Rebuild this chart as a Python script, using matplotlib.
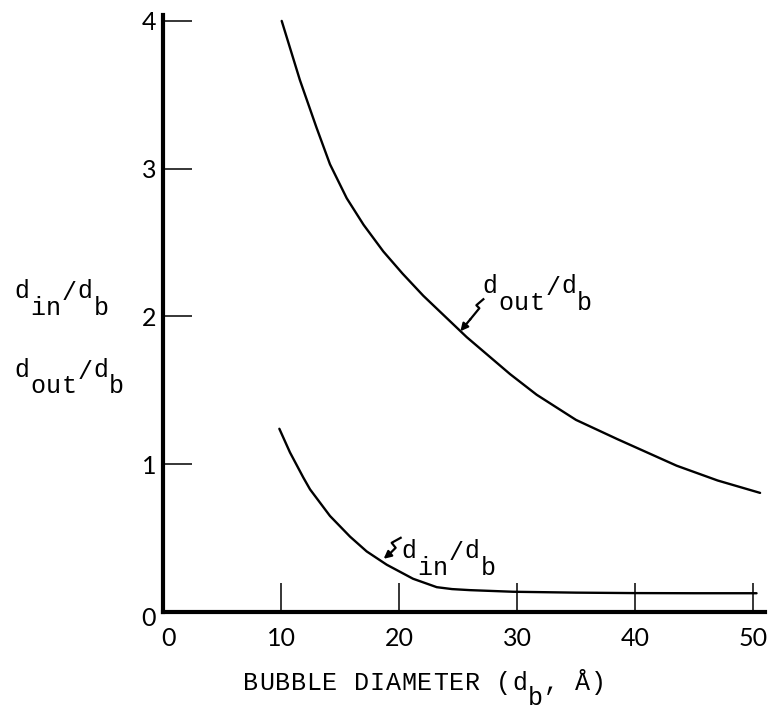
import matplotlib
matplotlib.use("Agg")
import matplotlib.pyplot as plt
from matplotlib.transforms import offset_copy

# values
dout_x = [10.06, 11.6, 13.0, 14.15, 15.57, 17.0, 18.67, 20.3, 22.06, 25.74, 29.41,
          31.67, 35.0, 38.5, 43.53, 47.0, 50.6]
dout_y = [4.00, 3.60, 3.28, 3.03, 2.80, 2.62, 2.44, 2.29, 2.14, 1.86, 1.61,
          1.47, 1.30, 1.17, 0.99, 0.89, 0.806]

din_x = [9.86, 10.76, 11.89, 12.46, 14.15, 15.85, 17.26, 18.96, 21.19, 23.2, 24.5,
         26.0, 29.66, 35.0, 39.83, 45.0, 50.3]
din_y = [1.24, 1.08, 0.91, 0.83, 0.65, 0.51, 0.41, 0.32, 0.225, 0.168, 0.155,
         0.148, 0.137, 0.131, 0.128, 0.127, 0.127]

x_ticks = [10, 20, 30, 40, 50]
y_ticks = [1, 2, 3, 4]

W, H = 783, 716
MONO = "Liberation Mono"
DIGITS = "Lato"
PITCH = 15.8  # typewriter character pitch, px

fig = plt.figure(figsize=(W / 100, H / 100), dpi=100)
ax = fig.add_axes([163 / W, (H - 612) / H, 602 / W, 597 / H])
ax.set_xlim(0, 602 / 11.8)
ax.set_ylim(0, 4.04)

ax.plot(dout_x, dout_y, color="black", lw=1.7, solid_capstyle="round")
ax.plot(din_x, din_y, color="black", lw=1.7, solid_capstyle="round")

for side in ["top", "right"]:
    ax.spines[side].set_visible(False)
for side in ["left", "bottom"]:
    ax.spines[side].set_linewidth(3)

ax.set_xticks(x_ticks)
ax.set_yticks(y_ticks)
ax.tick_params(direction="in", length=21, width=1.1, labelsize=18)
ax.tick_params(axis="x", pad=11)
ax.tick_params(axis="y", pad=5)
for lab in ax.get_xticklabels() + ax.get_yticklabels():
    lab.set_fontfamily(DIGITS)

# px -> data
sx = 1 / 11.8
sy = 4.04 / 597

# the two zeros sit a little apart from the corner
ax.text(5 * sx, 0, "0", fontsize=18, family=DIGITS, ha="center", va="top",
        transform=offset_copy(ax.transData, fig=fig, y=-11, units="points"))
ax.text(-15 * sx, -7 * sy, "0", fontsize=18, family=DIGITS,
        ha="center", va="center", clip_on=False)


def typed(x0, y0, parts, size=18):
    # typewriter text: each char in its own cell; parts are (text, drop px)
    col = 0
    for s, drop in parts:
        for ch in s:
            if ch != " ":
                fig.text((x0 + col * PITCH + PITCH / 2) / W, 1 - (y0 + drop) / H, ch,
                         fontsize=size, family=MONO, ha="center", va="baseline")
            col += 1


def zigzag(tip, offs):
    xs = [tip[0] + dx * sx for dx, dy in offs]
    ys = [tip[1] + dy * sy for dx, dy in offs]
    ax.plot(xs, ys, color="black", lw=1.6, clip_on=False)
    ax.annotate("", xy=tip, xytext=(xs[-1], ys[-1]),
                arrowprops=dict(arrowstyle="-|>", color="black", lw=1.6,
                                mutation_scale=11, shrinkA=0, shrinkB=0))


# y-axis label (two lines)
typed(14, 298, [("d", 0), ("in", 17), ("/", 2), ("d", 0), ("b", 17)])
typed(14, 377, [("d", 0), ("out", 16), ("/", 2), ("d", 0), ("b", 16)])

# x-axis label
typed(243, 690, [("BUBBLE DIAMETER (d", 0), ("b", 15), (", Å)", 0)])

# curve labels
typed(482, 293, [("d", 0), ("out", 17), ("/", 2), ("d", 0), ("b", 17)])
zigzag((25.2, 1.90), [(23, 32), (16, 26), (19, 23), (10, 12)])

typed(401, 558, [("d", 0), ("in", 17), ("/", 2), ("d", 0), ("b", 17)])
zigzag((18.7, 0.36), [(17, 21), (8, 16), (12, 11), (6, 5)])

fig.savefig("out.png", dpi=100)
